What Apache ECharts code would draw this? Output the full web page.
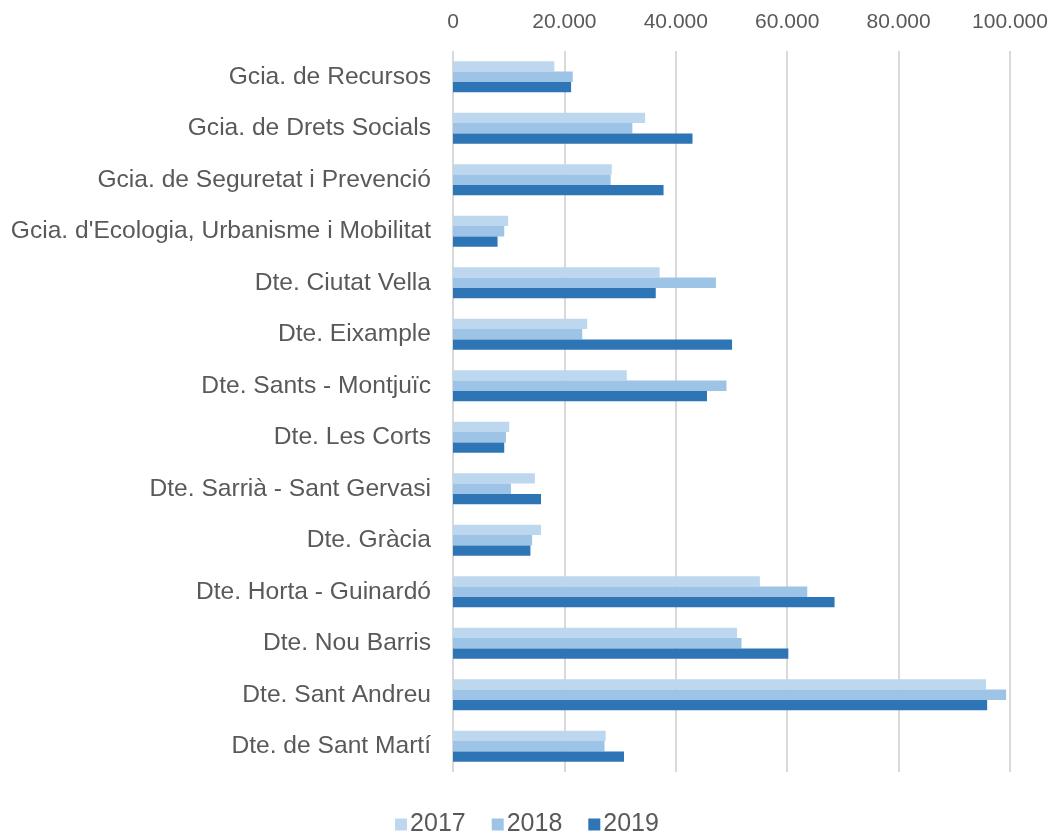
<!DOCTYPE html>
<html>
<head>
<meta charset="utf-8">
<script src="https://cdn.jsdelivr.net/npm/echarts@6/dist/echarts.min.js"></script>
<style>
  html, body { margin: 0; padding: 0; background: #fff; }
  #main { width: 1054px; height: 834px; }
</style>
</head>
<body>
<div id="main"></div>
<script>
var categories = [
  'Gcia. de Recursos',
  'Gcia. de Drets Socials',
  'Gcia. de Seguretat i Prevenció',
  "Gcia. d'Ecologia, Urbanisme i Mobilitat",
  'Dte. Ciutat Vella',
  'Dte. Eixample',
  'Dte. Sants - Montjuïc',
  'Dte. Les Corts',
  'Dte. Sarrià - Sant Gervasi',
  'Dte. Gràcia',
  'Dte. Horta - Guinardó',
  'Dte. Nou Barris',
  'Dte. Sant Andreu',
  'Dte. de Sant Martí'
];
var years = ['2017', '2018', '2019'];
var values2017 = [18200, 34500, 28500, 9900, 37100, 24100, 31200, 10100, 14700, 15800, 55100, 51000, 95700, 27400];
var values2018 = [21500, 32200, 28300, 9200, 47200, 23200, 49100, 9500, 10400, 14200, 63600, 51800, 99300, 27200];
var values2019 = [21200, 43000, 37800, 8000, 36400, 50100, 45600, 9200, 15800, 13900, 68500, 60200, 95900, 30700];
var colors = ['#BDD7EE', '#9DC3E6', '#2E75B6'];

function fmt(v) {
  return String(v).replace(/\B(?=(\d{3})+(?!\d))/g, '.');
}

var chart = echarts.init(document.getElementById('main'));
var seriesData = [values2017, values2018, values2019];

chart.setOption({
  animation: false,
  textStyle: { fontFamily: 'Liberation Sans, Arial, sans-serif', color: '#595959' },
  color: colors,
  legend: {
    data: years,
    bottom: -8,
    left: 'center',
    itemWidth: 12,
    itemHeight: 12,
    itemGap: 26,
    icon: 'rect',
    textStyle: { fontSize: 25, color: '#595959', padding: [0, 0, 0, -2] }
  },
  grid: { left: 453, right: 44, top: 51, bottom: 62, containLabel: false },
  xAxis: {
    type: 'value',
    position: 'top',
    min: 0,
    max: 100000,
    interval: 20000,
    axisLine: { show: false },
    axisTick: { show: false },
    axisLabel: { fontSize: 21, color: '#595959', margin: 18, formatter: fmt },
    splitLine: { lineStyle: { color: '#d9d9d9', width: 2 } }
  },
  yAxis: {
    type: 'category',
    data: categories,
    inverse: true,
    axisLine: { show: false },
    axisTick: { show: false },
    axisLabel: { fontSize: 24.6, color: '#595959', margin: 22 }
  },
  series: years.map(function (y, i) {
    return {
      name: y,
      type: 'bar',
      data: seriesData[i],
      barGap: '0%',
      barCategoryGap: '40%',
      itemStyle: { color: colors[i] }
    };
  })
});
</script>
</body>
</html>
